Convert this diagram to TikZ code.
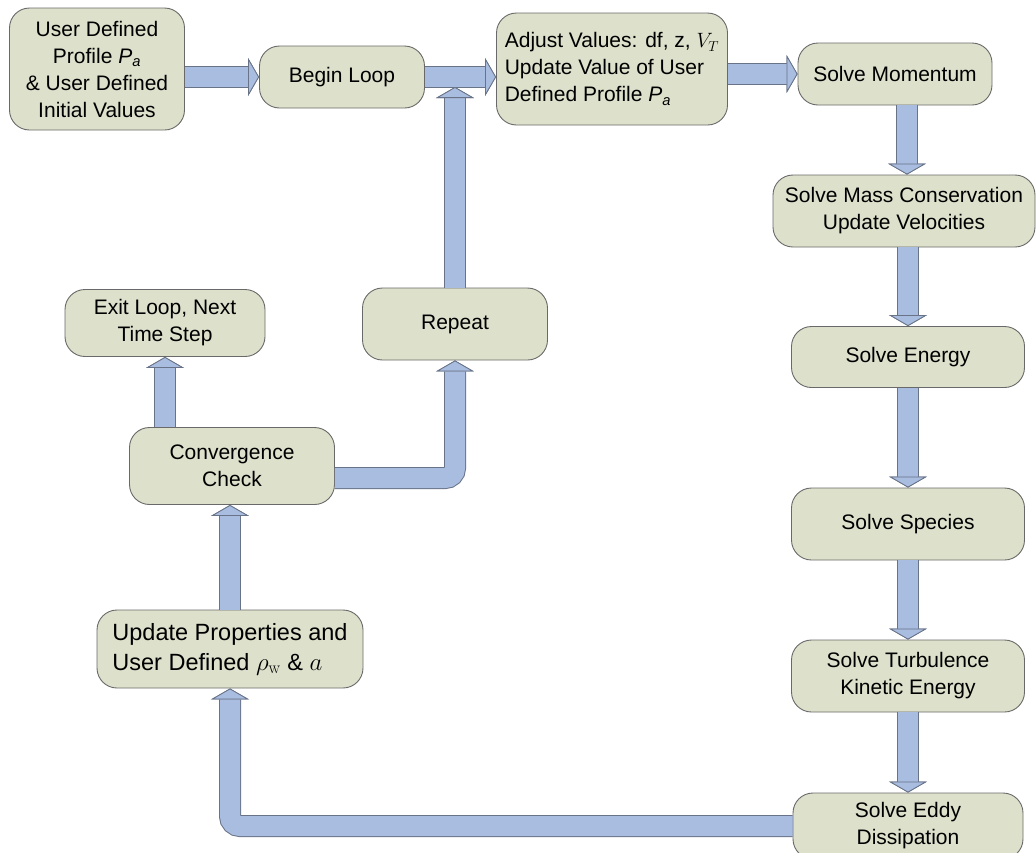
\documentclass[tikz,border=0pt]{standalone}
\usepackage[no-math]{fontspec}
\setmainfont{Liberation Sans}
\usetikzlibrary{calc}
\usetikzlibrary{arrows.meta}

\definecolor{boxfill}{RGB}{221,224,203}
\definecolor{boxline}{RGB}{105,105,105}
\definecolor{flowfill}{RGB}{168,189,224}
\definecolor{flowline}{RGB}{105,115,135}

\tikzset{
  stage/.style={draw=boxline, fill=boxfill, line width=0.9pt, rounded corners=20pt,
    align=center, inner sep=2pt, font=\fontsize{21}{27}\selectfont},
  flowtip/.style={-{Triangle[width=38pt,length=11pt,line width=0.8pt,fill=flowfill,color=flowline]}}
}
\newcommand\flow[1]{%
  \draw[flowtip, draw=flowline, line width=22pt, rounded corners=10pt] #1;
  \draw[flowtip, draw=flowfill, line width=20pt, rounded corners=10pt] #1;
}
\newcommand\Pa{\textit{P}\textsubscript{\textit{a}}}

\begin{document}
\begin{tikzpicture}[x=1pt, y=-1pt]

\useasboundingbox (0,0) rectangle (1036,852);

\node[stage, minimum width=175pt, minimum height=122pt] (profile) at (97,69) {User Defined\\Profile \Pa\\\& User Defined\\Initial Values};
\node[stage, minimum width=165pt, minimum height=62pt] (begin) at (342,77) {Begin Loop};
\node[stage, minimum width=231pt, minimum height=112pt, align=left] (adjust) at (612,69) {Adjust Values: df, z, $V_T$\\Update Value of User\\Defined Profile \Pa};
\node[stage, minimum width=194pt, minimum height=62pt] (momentum) at (895,74) {Solve Momentum};
\node[stage, minimum width=262pt, minimum height=72pt] (mass) at (904,211) {Solve Mass Conservation\\Update Velocities};
\node[stage, minimum width=233pt, minimum height=61pt] (energy) at (908,357) {Solve Energy};
\node[stage, minimum width=233pt, minimum height=72pt] (species) at (908,524) {Solve Species};
\node[stage, minimum width=233pt, minimum height=72pt] (turbulence) at (908,676) {Solve Turbulence\\Kinetic Energy};
\node[stage, minimum width=230pt, minimum height=66pt] (eddy) at (908,826) {Solve Eddy\\Dissipation};

\node[stage, minimum width=200pt, minimum height=67pt] (exit) at (165,323) {Exit Loop, Next\\Time Step};
\node[stage, minimum width=185pt, minimum height=72pt] (repeat) at (455,324) {Repeat};
\node[stage, minimum width=205pt, minimum height=77pt] (check) at (232,466) {Convergence\\Check};
\node[stage, minimum width=266pt, minimum height=78pt, align=left, font=\fontsize{23.5}{30}\selectfont] (update) at (230,649) {Update Properties and\\User Defined $\rho_{\mathrm{w}}$ \& $a$};

\coordinate (spine) at (907,0);
\coordinate (join) at ($(begin.east)!0.5!(adjust.west |- begin.east)+(0,10)$);

\flow{(profile.east |- begin.west) -- (begin.west)}
\flow{(begin.east) -- (adjust.west |- begin.east)}
\flow{(adjust.east |- momentum.west) -- (momentum.west)}
\flow{(momentum.south -| spine) -- (spine |- mass.north)}
\flow{(mass.south -| energy.north) -- (energy.north)}
\flow{(energy.south) -- (species.north)}
\flow{(species.south) -- (turbulence.north)}
\flow{(turbulence.south) -- (eddy.north)}
\flow{(eddy.west) -| (update.south)}
\flow{(update.north) -- (update.north |- check.south)}
\flow{(check.north -| exit.south) -- (exit.south)}
\flow{([yshift=-12pt]check.east) -| (repeat.south)}
\flow{(repeat.north) -- (repeat.north |- join)}

\end{tikzpicture}
\end{document}
